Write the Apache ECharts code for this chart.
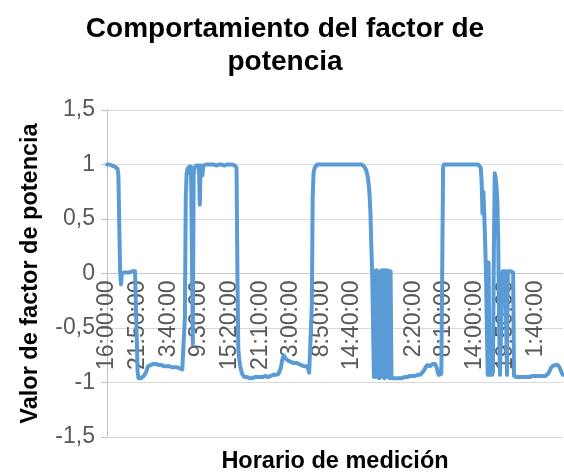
<!DOCTYPE html>
<html>
<head>
<meta charset="utf-8">
<script src="https://cdn.jsdelivr.net/npm/echarts@6/dist/echarts.min.js"></script>
<style>
html,body{margin:0;padding:0;background:#fff;}
#chart{width:564px;height:472px;}
</style>
</head>
<body>
<div id="chart"></div>
<script>
// Power factor readings, one every 10 minutes starting at 16:00:00
var pfValues = [
1.00,1.00,1.00,1.00,1.00,0.99,0.99,0.99,0.99,0.98,0.98,0.97,0.96,0.90,0.45,0.02,-0.10,0.00,0.01,0.01,
0.01,0.01,0.01,0.01,0.01,0.01,0.01,0.02,0.02,0.02,0.02,0.02,0.02,0.01,0.01,-0.90,-0.96,-0.97,-0.96,-0.96,
-0.95,-0.95,-0.94,-0.94,-0.93,-0.90,-0.87,-0.85,-0.84,-0.84,-0.84,-0.84,-0.83,-0.83,-0.83,-0.83,-0.83,-0.83,-0.84,-0.84,
-0.84,-0.84,-0.84,-0.84,-0.84,-0.85,-0.85,-0.85,-0.85,-0.85,-0.85,-0.85,-0.86,-0.86,-0.86,-0.86,-0.86,-0.86,-0.86,-0.86,
-0.86,-0.87,-0.87,-0.87,-0.87,-0.88,-0.88,-0.89,-0.89,-0.40,0.70,0.92,0.96,0.97,0.98,0.92,0.98,0.99,-0.65,0.90,
0.97,0.98,0.99,0.99,1.00,0.99,0.63,0.99,0.98,0.90,0.99,1.00,1.00,1.00,1.00,1.00,1.00,1.00,1.00,1.00,
1.00,1.00,1.00,1.00,0.99,0.99,1.00,1.00,1.00,1.00,1.00,1.00,1.00,0.99,0.99,1.00,1.00,1.00,1.00,1.00,
1.00,1.00,1.00,1.00,0.99,0.99,0.99,0.98,0.97,0.00,-0.70,-0.78,-0.84,-0.88,-0.91,-0.93,-0.94,-0.95,-0.95,-0.95,
-0.95,-0.96,-0.96,-0.96,-0.96,-0.96,-0.96,-0.96,-0.95,-0.95,-0.95,-0.95,-0.95,-0.96,-0.96,-0.95,-0.95,-0.95,-0.95,-0.94,
-0.94,-0.94,-0.95,-0.95,-0.95,-0.94,-0.94,-0.94,-0.94,-0.93,-0.93,-0.93,-0.93,-0.93,-0.93,-0.93,-0.92,-0.90,-0.88,-0.85,
-0.80,-0.77,-0.75,-0.76,-0.78,-0.78,-0.79,-0.80,-0.80,-0.80,-0.81,-0.81,-0.81,-0.82,-0.82,-0.82,-0.82,-0.83,-0.83,-0.83,
-0.83,-0.84,-0.84,-0.84,-0.84,-0.85,-0.85,-0.85,-0.85,-0.86,-0.88,-0.91,-0.92,-0.90,-0.30,0.70,0.92,0.96,0.98,0.99,
1.00,1.00,1.00,1.00,1.00,1.00,1.00,1.00,1.00,1.00,1.00,1.00,1.00,1.00,1.00,1.00,1.00,1.00,1.00,1.00,
1.00,1.00,1.00,1.00,1.00,1.00,1.00,1.00,1.00,1.00,1.00,1.00,1.00,1.00,1.00,1.00,1.00,1.00,1.00,1.00,
1.00,1.00,1.00,1.00,1.00,1.00,1.00,1.00,1.00,1.00,1.00,1.00,0.99,0.99,0.98,0.97,0.95,0.92,0.88,0.82,
0.72,0.55,0.25,0.00,-0.50,-0.95,0.02,-0.95,0.03,-0.95,0.02,-0.96,-0.96,-0.96,0.03,-0.95,0.03,-0.96,0.03,-0.95,
0.03,-0.95,0.02,-0.96,0.02,-0.96,-0.96,-0.96,-0.96,-0.96,-0.96,-0.96,-0.96,-0.96,-0.96,-0.96,-0.96,-0.96,-0.95,-0.95,
-0.95,-0.95,-0.95,-0.95,-0.95,-0.95,-0.94,-0.94,-0.94,-0.94,-0.94,-0.94,-0.94,-0.94,-0.93,-0.93,-0.93,-0.93,-0.93,-0.92,
-0.91,-0.90,-0.90,-0.88,-0.86,-0.85,-0.84,-0.83,-0.84,-0.85,-0.84,-0.84,-0.83,-0.83,-0.84,-0.83,-0.84,-0.87,-0.91,-0.93,
-0.93,-0.92,-0.92,-0.91,0.98,1.00,1.00,1.00,1.00,1.00,1.00,1.00,1.00,1.00,1.00,1.00,1.00,1.00,1.00,1.00,
1.00,1.00,1.00,1.00,1.00,1.00,1.00,1.00,1.00,1.00,1.00,1.00,1.00,1.00,1.00,1.00,1.00,1.00,1.00,1.00,
1.00,1.00,1.00,1.00,1.00,1.00,0.99,0.97,0.85,0.55,0.75,0.55,0.30,0.00,-0.50,-0.93,0.10,-0.93,-0.94,-0.94,
-0.93,-0.90,0.20,0.92,0.88,0.80,0.65,0.30,-0.50,-0.93,-0.94,-0.93,0.02,0.02,0.02,0.02,0.02,-0.93,0.02,0.02,
0.02,0.02,0.02,0.02,0.01,-0.94,-0.95,-0.95,-0.95,-0.95,-0.95,-0.95,-0.95,-0.95,-0.95,-0.95,-0.95,-0.95,-0.95,-0.95,
-0.95,-0.95,-0.95,-0.95,-0.95,-0.94,-0.94,-0.94,-0.94,-0.94,-0.94,-0.94,-0.94,-0.94,-0.94,-0.94,-0.94,-0.94,-0.94,-0.94,
-0.94,-0.94,-0.93,-0.93,-0.92,-0.91,-0.89,-0.87,-0.86,-0.85,-0.84,-0.84,-0.84,-0.85,-0.84,-0.84,-0.85,-0.86,-0.88,-0.90,
-0.92,-0.93
];

// Time-of-day categories (10-minute sampling starting at 16:00:00)
var startMinutes = 16 * 60;
var stepMinutes = 10;
var timeLabels = [];
for (var i = 0; i < pfValues.length; i++) {
  var m = (startMinutes + i * stepMinutes) % 1440;
  var h = Math.floor(m / 60), mm = m % 60;
  timeLabels.push(h + ':' + (mm < 10 ? '0' : '') + mm + ':00');
}

var yTicks = { min: -1.5, max: 1.5, step: 0.5 };

var gridTop = 110, gridBottom = 35, H = 472;
var plotH = H - gridTop - gridBottom;
// shift the category axis up so it crosses the value axis at 0
var zeroOffset = -plotH * (0 - yTicks.min) / (yTicks.max - yTicks.min);

var chart = echarts.init(document.getElementById('chart'), null, { renderer: 'canvas' });
chart.setOption({
  animation: false,
  backgroundColor: '#ffffff',
  title: {
    text: 'Comportamiento del factor de\npotencia',
    left: 280,
    textAlign: 'center',
    top: 8,
    textStyle: {
      fontFamily: 'Liberation Sans',
      fontWeight: 'bold',
      fontSize: 28,
      lineHeight: 33,
      color: '#000000'
    }
  },
  grid: { left: 107, right: 1, top: gridTop, bottom: gridBottom, containLabel: false, outerBoundsMode: 'none' },
  xAxis: {
    type: 'category',
    data: timeLabels,
    boundaryGap: false,
    position: 'bottom',
    offset: zeroOffset,
    name: 'Horario de medición',
    nameLocation: 'middle',
    nameGap: 176,
    nameTextStyle: {
      fontFamily: 'Liberation Sans',
      fontWeight: 'bold',
      fontSize: 23.5,
      color: '#000000'
    },
    axisLine: { onZero: false, lineStyle: { color: '#c8c8c8', width: 1 } },
    axisTick: { show: false },
    axisLabel: {
      interval: 34,
      rotate: 90,
      margin: 7,
      fontFamily: 'Liberation Sans',
      fontSize: 23,
      color: '#595959',
      hideOverlap: false
    },
    splitLine: { show: false }
  },
  yAxis: {
    type: 'value',
    min: yTicks.min,
    max: yTicks.max,
    interval: yTicks.step,
    name: 'Valor de factor de potencia',
    nameLocation: 'middle',
    nameGap: 64,
    nameTextStyle: {
      fontFamily: 'Liberation Sans',
      fontWeight: 'bold',
      fontSize: 23.5,
      color: '#000000'
    },
    axisLine: { show: true, lineStyle: { color: '#bfbfbf', width: 1 } },
    axisTick: { show: true, length: 6, lineStyle: { color: '#bfbfbf' } },
    axisLabel: {
      margin: 12,
      fontFamily: 'Liberation Sans',
      fontSize: 23,
      color: '#595959',
      formatter: function (v) { return String(v).replace('.', ','); }
    },
    splitLine: { show: true, lineStyle: { color: '#d9d9d9', width: 1 } }
  },
  series: [{
    type: 'line',
    data: pfValues,
    showSymbol: false,
    symbol: 'none',
    lineStyle: { color: '#5b9bd5', width: 4, join: 'round', cap: 'round' },
    z: 5
  }]
});
</script>
</body>
</html>
